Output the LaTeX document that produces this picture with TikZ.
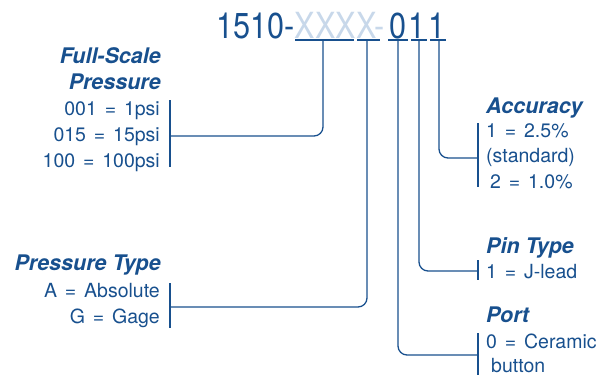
\documentclass[tikz,border=0pt]{standalone}
\usepackage{fontspec}
\setmainfont{TeX Gyre Heros}
\newfontfamily\titlefont[FakeStretch=0.85]{TeX Gyre Heros}
\newfontfamily\bodyfont[WordSpace=1.45]{TeX Gyre Heros}
\definecolor{pblue}{RGB}{24,80,142}
\definecolor{plight}{RGB}{200,216,234}
\begin{document}
\begin{tikzpicture}[x=1pt,y=-1pt,
  ttl/.style={inner sep=0pt, font=\titlefont\fontsize{36}{36}\selectfont, text=pblue},
  head/.style={inner sep=0pt, font=\fontsize{21.5}{22}\selectfont\bfseries\itshape, text=pblue},
  body/.style={inner sep=0pt, font=\bodyfont\fontsize{19.5}{20}\selectfont, text=pblue},
  ln/.style={draw=pblue, line width=1.3pt},
  conn/.style={draw=pblue, line width=1.3pt, rounded corners=9pt}]
\useasboundingbox (0,0) rectangle (613,375);
% title
\node[ttl, anchor=base west] (p1) at (216,38) {1510-};
\node[ttl, anchor=base west, text=plight] (p2) at (p1.base east) {XXXX-};
\node[ttl, anchor=base] (p3) at (398,38) {0};
\node[ttl, anchor=base] (p4) at (417,38) {1};
\node[ttl, anchor=base] (p5) at (437,38) {1};
% underlines
\coordinate (u1a) at (295,40); \coordinate (u1b) at (354,40); \coordinate (t1) at (323,40);
\coordinate (u2a) at (357,40); \coordinate (u2b) at (380,40); \coordinate (t2) at (367,40);
\coordinate (u3a) at (388,40); \coordinate (u3b) at (408,40); \coordinate (t3) at (398,40);
\coordinate (u4a) at (411,40); \coordinate (u4b) at (427,40); \coordinate (t4) at (419,40);
\coordinate (u5a) at (430,40); \coordinate (u5b) at (446,40); \coordinate (t5) at (439,40);
\foreach \i in {1,...,5} {\draw[ln] (u\i a) -- (u\i b);}
% Full-scale pressure
\node[head, anchor=base east] (fs1) at (161,63) {Full-Scale};
\node[head, anchor=base east] (fs2) at (161,89) {Pressure};
\node[body, anchor=base east] (fs3) at (160,115) {001 = 1psi};
\node[body, anchor=base east] (fs4) at (160,141) {015 = 15psi};
\node[body, anchor=base east] (fs5) at (160,167) {100 = 100psi};
\coordinate (fsa) at (170,100); \coordinate (fsb) at (170,167); \coordinate (fsm) at (170,136);
\draw[ln] (fsa) -- (fsb);
\draw[conn] (t1) |- (fsm);
% Pressure type
\node[head, anchor=base east] (pt1) at (161,270) {Pressure Type};
\node[body, anchor=base east] (pt2) at (160,297) {A = Absolute};
\node[body, anchor=base east] (pt3) at (160,323) {G = Gage};
\coordinate (pta) at (170,283); \coordinate (ptb) at (170,328); \coordinate (ptm) at (170,307);
\draw[ln] (pta) -- (ptb);
\draw[conn] (t2) |- (ptm);
% Accuracy
\node[head, anchor=base west] (ac1) at (486,113) {Accuracy};
\node[body, anchor=base west] (ac2) at (486,137) {1 = 2.5\%};
\node[body, anchor=base west] (ac3) at (486,162) {(standard)};
\node[body, anchor=base west] (ac4) at (490,188) {2 = 1.0\%};
\coordinate (aca) at (478,123); \coordinate (acb) at (478,187); \coordinate (acm) at (478,158);
\draw[ln] (aca) -- (acb);
\draw[conn] (t5) |- (acm);
% Pin type
\node[head, anchor=base west] (pn1) at (486,253) {Pin Type};
\node[body, anchor=base west] (pn2) at (486,278) {1 = J-lead};
\coordinate (pna) at (478,260); \coordinate (pnb) at (478,280); \coordinate (pnm) at (478,271);
\draw[ln] (pna) -- (pnb);
\draw[conn] (t4) |- (pnm);
% Port
\node[head, anchor=base west] (po1) at (486,322) {Port};
\node[body, anchor=base west] (po2) at (486,348) {0 = Ceramic};
\node[body, anchor=base west] (po3) at (491,372) {button};
\coordinate (poa) at (478,333); \coordinate (pob) at (478,375); \coordinate (pom) at (478,355);
\draw[ln] (poa) -- (pob);
\draw[conn] (t3) |- (pom);
\end{tikzpicture}
\end{document}
